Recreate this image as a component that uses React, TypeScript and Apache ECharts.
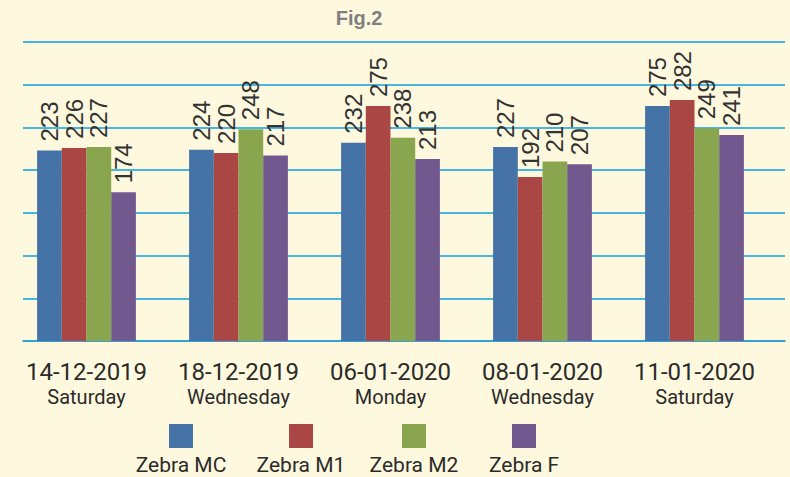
import React, { useEffect, useRef } from "react";
import * as echarts from "echarts";

const dates = ["14-12-2019", "18-12-2019", "06-01-2020", "08-01-2020", "11-01-2020"];
const weekdays = ["Saturday", "Wednesday", "Monday", "Wednesday", "Saturday"];
const seriesNames = ["Zebra MC", "Zebra M1", "Zebra M2", "Zebra F"];
const zebraMC = [223, 224, 232, 227, 275];
const zebraM1 = [226, 220, 275, 192, 282];
const zebraM2 = [227, 248, 238, 210, 249];
const zebraF = [174, 217, 213, 207, 241];
const colors = ["#4572A7", "#AA4643", "#89A54E", "#71588F"];
const yTicks = [0, 50, 100, 150, 200, 250, 300, 350];

const legendCenters = [181, 301, 414, 524];

export default function App() {
  const ref = useRef<HTMLDivElement>(null);
  useEffect(() => {
    if (!ref.current) return;
    const chart = echarts.init(ref.current, null, { renderer: "svg" });
    const values = [zebraMC, zebraM1, zebraM2, zebraF];
    const legendGraphics: any[] = [];
    seriesNames.forEach((n, i) => {
      legendGraphics.push({
        type: "rect",
        shape: { x: legendCenters[i] - 12, y: 424, width: 24, height: 24 },
        style: { fill: colors[i] },
      });
      legendGraphics.push({
        type: "text",
        x: legendCenters[i],
        y: 465,
        style: {
          text: n,
          fill: "#2b2b2b",
          font: '21px Roboto',
          align: "center",
          verticalAlign: "middle",
        },
      });
    });
    const hiddenAxisParts = {
      axisLine: { show: false },
      axisTick: { show: false },
      splitLine: { show: false },
    };
    chart.setOption({
      animation: false,
      backgroundColor: "#FEF9DE",
      graphic: [
        {
          type: "text",
          x: 359,
          y: 18,
          style: {
            text: "Fig.2",
            fill: "#808080",
            font: 'bold 20px "Liberation Sans"',
            align: "center",
            verticalAlign: "middle",
          },
        },
        ...legendGraphics,
      ],
      grid: [
        { left: 10.5, right: 19.5, top: 42, bottom: 136, containLabel: false },
        { left: 23, right: 5, top: 42, bottom: 136, containLabel: false },
      ],
      xAxis: [
        {
          type: "category",
          gridIndex: 0,
          position: "bottom",
          data: dates,
          ...hiddenAxisParts,
          axisLabel: {
            margin: 19,
            interval: 0,
            color: "#2b2b2b",
            fontSize: 24,
            lineHeight: 24,
            fontFamily: "Roboto",
          },
        },
        {
          type: "value",
          gridIndex: 1,
          min: 0,
          max: 1,
          show: true,
          axisLine: { show: true, onZero: false, lineStyle: { color: "#2E9BD0", width: 1.5 } },
          axisTick: { show: false },
          axisLabel: { show: false },
          splitLine: { show: false },
        },
        {
          type: "category",
          gridIndex: 0,
          position: "bottom",
          offset: 0,
          data: weekdays,
          ...hiddenAxisParts,
          axisLabel: {
            margin: 46,
            interval: 0,
            color: "#2b2b2b",
            fontSize: 20,
            lineHeight: 20,
            fontFamily: "Roboto",
          },
        },
      ],
      yAxis: [
        {
          type: "value",
          gridIndex: 0,
          min: yTicks[0],
          max: yTicks[yTicks.length - 1],
          interval: 50,
          axisLine: { show: false },
          axisTick: { show: false },
          axisLabel: { show: false },
          splitLine: { show: false },
        },
        {
          type: "value",
          gridIndex: 1,
          min: yTicks[0],
          max: yTicks[yTicks.length - 1],
          interval: 50,
          axisLine: { show: false },
          axisTick: { show: false },
          axisLabel: { show: false },
          splitLine: { show: true, lineStyle: { color: "#0AA0DC", width: 1.5 } },
        },
      ],
      series: seriesNames.map((n, i) => ({
        name: n,
        type: "bar",
        xAxisIndex: 0,
        yAxisIndex: 0,
        data: values[i],
        barGap: "0%",
        barCategoryGap: "35%",
        z: 3,
        itemStyle: { color: colors[i] },
        label: {
          show: true,
          position: "top",
          rotate: 90,
          align: "left",
          verticalAlign: "middle",
          distance: 9,
          color: "#333333",
          fontSize: 24,
          fontFamily: "Liberation Sans",
        },
      })),
    });
    return () => chart.dispose();
  }, []);
  return (
    <div
      ref={ref}
      style={{ position: "absolute", left: 0, top: 0, width: 790, height: 477 }}
    />
  );
}
